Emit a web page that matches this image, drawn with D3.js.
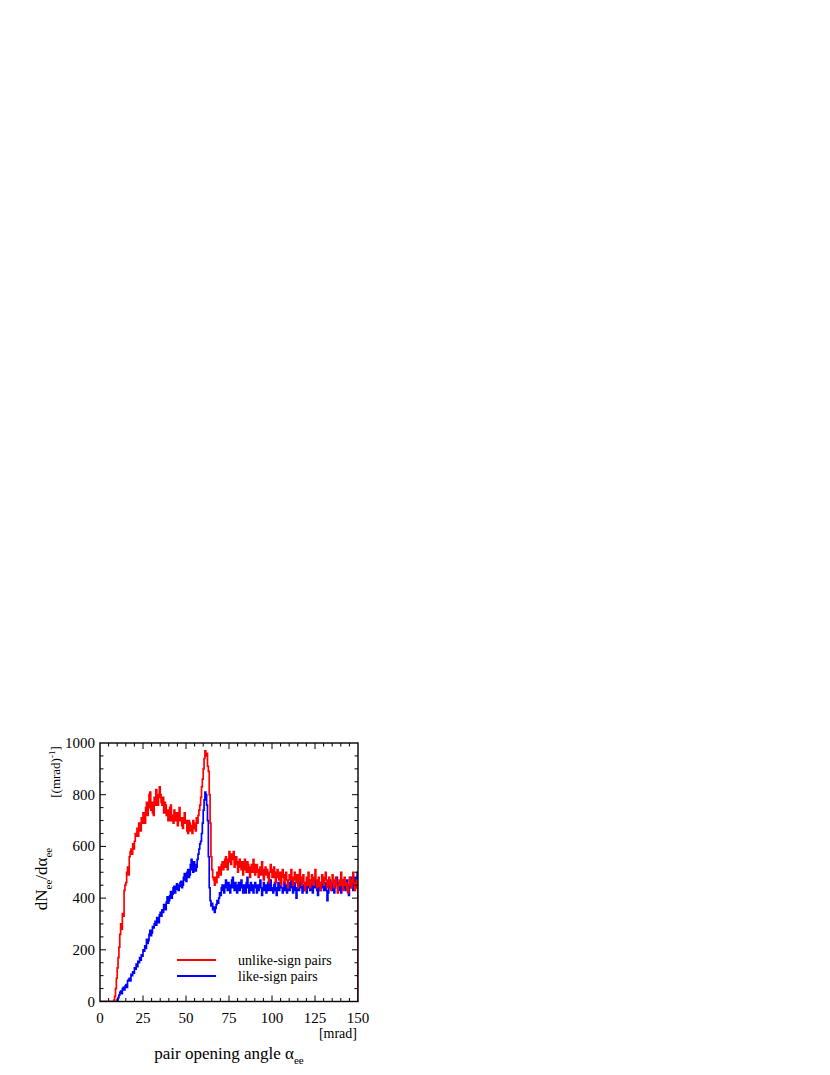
<!DOCTYPE html>
<html><head><meta charset="utf-8">
<script src="https://cdn.jsdelivr.net/npm/d3@7"></script>
<style>
body{margin:0;background:#fff;}
</style></head>
<body><svg id="c" width="830" height="1075"></svg>
<script>
// bins of 0.5 mrad, starting at 0 (20 values per 10 mrad)
const binWidth = 0.5;
const unlikeSign = [
0,0,0,0,0,0,0,0,0,0,0,0,0,0,0,0,5,20,50,90,
130,170,210,260,300,280,340,330,430,450,460,500,520,490,560,580,590,570,610,590,
620,650,640,670,640,690,680,660,710,690,730,700,690,750,770,720,750,800,810,740,
770,730,720,790,760,820,800,760,790,830,800,770,760,790,730,770,760,720,740,700,
700,750,760,700,720,690,740,720,700,730,680,720,750,700,710,680,670,710,730,690,
700,660,650,700,690,660,680,650,700,670,690,660,710,690,720,740,760,790,830,860,
900,940,970,950,960,910,890,800,690,560,510,480,470,450,480,460,500,480,520,500,
490,530,540,510,520,550,560,520,510,550,580,540,530,570,550,580,520,540,560,530,
500,540,550,520,510,540,490,520,550,510,500,540,530,500,480,520,530,500,550,530,
490,520,530,500,480,510,520,490,540,510,470,500,520,490,510,480,460,500,530,500,
480,510,520,480,460,500,510,480,470,500,450,480,510,490,460,480,500,470,440,470,
490,470,510,480,450,470,500,480,460,490,440,470,510,480,450,470,490,460,430,460,
480,450,500,470,440,460,490,470,450,480,510,470,440,460,480,450,430,460,490,460,
450,480,500,470,440,460,480,450,430,460,490,460,440,470,480,450,420,450,470,450,
500,470,430,460,480,450,460,430,420,450,480,460,440,470,500,460,430,450,470,440];
const likeSign = [
0,0,0,0,0,0,0,0,0,0,0,0,0,0,0,0,0,0,0,0,
5,15,25,35,40,30,50,55,45,60,65,55,80,85,90,80,105,100,115,110,
130,125,145,135,155,150,170,160,180,175,200,195,215,205,240,225,235,260,275,255,
265,290,285,300,310,295,325,315,305,335,345,330,355,345,375,360,355,385,405,380,
390,410,425,400,415,440,445,420,435,455,450,430,445,460,465,440,450,480,495,470,
465,500,510,480,490,530,550,510,500,540,530,505,520,550,570,590,610,620,650,690,
740,780,810,800,760,700,560,440,390,370,380,355,365,345,360,375,390,380,400,420,
410,440,450,430,420,450,470,440,430,460,450,420,440,470,480,440,430,460,450,420,
440,460,430,450,470,440,420,450,440,420,460,480,440,420,450,460,430,450,420,440,
460,440,420,450,430,450,470,440,410,440,460,430,450,420,440,460,430,450,470,430,
440,420,450,460,430,410,440,460,430,450,470,440,420,440,460,430,450,420,440,460,
430,450,470,440,420,450,460,430,400,440,460,430,450,470,440,420,450,430,460,440,
420,450,470,440,430,460,440,420,450,470,440,460,430,410,440,460,430,450,470,440,
430,450,460,430,390,420,450,470,440,460,430,450,420,440,460,480,450,430,460,440,
420,450,470,440,460,430,450,470,440,410,450,480,440,460,430,460,480,440,470,500];
const xTickLabels = [0,25,50,75,100,125,150];
const yTickLabels = [0,200,400,600,800,1000];

const FONT = "'Liberation Serif', 'Times New Roman', serif";
const svg = d3.select("#c");
const L=100, R=358, T=743, B=1001.5;
const x = d3.scaleLinear().domain([0,150]).range([L,R]);
const y = d3.scaleLinear().domain([0,1000]).range([B,T]);

svg.append("clipPath").attr("id","clip").append("rect")
  .attr("x",L).attr("y",T).attr("width",R-L).attr("height",B-T);

function pts(arr){
  const p = arr.map((v,i)=>[i*binWidth,v]);
  p.push([150,arr[arr.length-1]]);
  p.push([150,0]);
  return p;
}
const line = d3.line().x(d=>x(d[0])).y(d=>y(d[1])).curve(d3.curveStepAfter);
const g = svg.append("g").attr("clip-path","url(#clip)");
g.append("path").attr("d",line(pts(likeSign))).attr("fill","none").attr("stroke","#0000ff").attr("stroke-width",1.7);
g.append("path").attr("d",line(pts(unlikeSign))).attr("fill","none").attr("stroke","#ff0000").attr("stroke-width",1.7);

// ticks
const tk = svg.append("g").attr("stroke","#000").attr("stroke-width",1);
d3.range(5,150,5).forEach(v=>{
  const len = v%25===0?6:3.5;
  tk.append("line").attr("x1",x(v)).attr("x2",x(v)).attr("y1",B).attr("y2",B-len);
  tk.append("line").attr("x1",x(v)).attr("x2",x(v)).attr("y1",T).attr("y2",T+len);
});
d3.range(50,1000,50).forEach(v=>{
  const len = v%200===0?6:3.5;
  tk.append("line").attr("y1",y(v)).attr("y2",y(v)).attr("x1",L).attr("x2",L+len);
  tk.append("line").attr("y1",y(v)).attr("y2",y(v)).attr("x1",R).attr("x2",R-len);
});
svg.append("rect").attr("x",L).attr("y",T).attr("width",R-L).attr("height",B-T)
  .attr("fill","none").attr("stroke","#000").attr("stroke-width",1.4);

// tick labels
svg.append("g").selectAll("text").data(xTickLabels).join("text")
  .attr("x",d=>x(d)).attr("y",1023).attr("text-anchor","middle")
  .style("font-family",FONT).style("font-size","15px").text(d=>d);
svg.append("g").selectAll("text").data(yTickLabels).join("text")
  .attr("x",95).attr("y",d=>y(d)+5).attr("text-anchor","end")
  .style("font-family",FONT).style("font-size","15px").text(d=>d);

// unit
svg.append("text").attr("x",357).attr("y",1038).attr("text-anchor","end")
  .style("font-family",FONT).style("font-size","14px").text("[mrad]");

// x title
const xt = svg.append("text").attr("x",229).attr("y",1059).attr("text-anchor","middle")
  .style("font-family",FONT).style("font-size","17px");
xt.append("tspan").text("pair opening angle α");
xt.append("tspan").attr("dy",5).style("font-size","11px").text("ee");

// y title
const yt = svg.append("text").attr("transform","translate(47,879) rotate(-90)").attr("text-anchor","middle")
  .style("font-family",FONT).style("font-size","17px");
yt.append("tspan").text("dN");
yt.append("tspan").attr("dy",5).style("font-size","11px").text("ee");
yt.append("tspan").attr("dy",-5).text("/dα");
yt.append("tspan").attr("dy",5).style("font-size","11px").text("ee");

const yu = svg.append("text").attr("transform","translate(60,772) rotate(-90)").attr("text-anchor","middle")
  .style("font-family",FONT).style("font-size","13px");
yu.append("tspan").text("[(mrad)");
yu.append("tspan").attr("dy",-5).style("font-size","9px").text("-1");
yu.append("tspan").attr("dy",5).text("]");

// legend
const leg = [["unlike-sign pairs","#ff0000",960],["like-sign pairs","#0000ff",976]];
leg.forEach(([t,c,yy])=>{
  svg.append("line").attr("x1",177).attr("x2",216).attr("y1",yy).attr("y2",yy).attr("stroke",c).attr("stroke-width",1.8);
  svg.append("text").attr("x",238).attr("y",yy+5).style("font-family",FONT).style("font-size","14px").text(t);
});
</script></body></html>
